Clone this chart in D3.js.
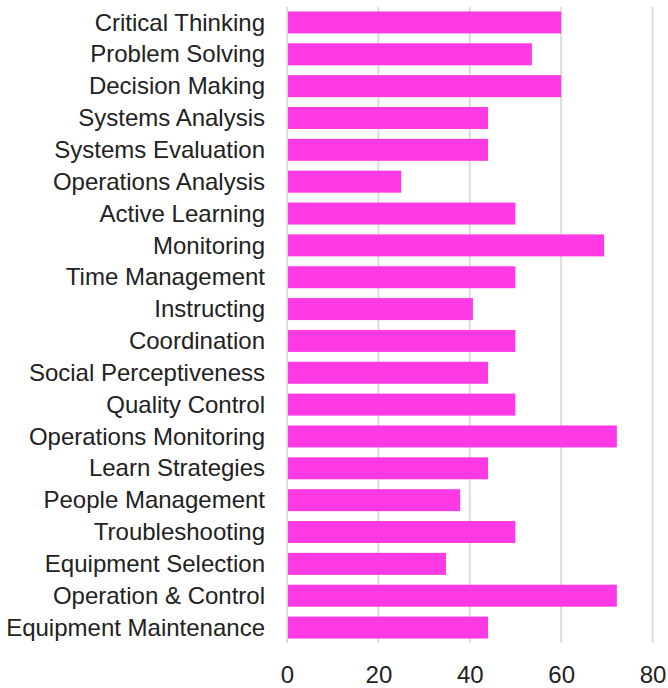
<!DOCTYPE html>
<html>
<head>
<meta charset="utf-8">
<script src="https://cdn.jsdelivr.net/npm/d3@7"></script>
<style>
  body { margin: 0; background: #fff; }
  text { font-family: "Liberation Sans", Arial, Helvetica, sans-serif; fill: #222; }
</style>
</head>
<body>
<div id="target"></div>
<script>
// skills and their scores
var skills = ['Critical Thinking', 'Problem Solving', 'Decision Making', 'Systems Analysis',
  'Systems Evaluation', 'Operations Analysis', 'Active Learning', 'Monitoring',
  'Time Management', 'Instructing', 'Coordination', 'Social Perceptiveness',
  'Quality Control', 'Operations Monitoring', 'Learn Strategies', 'People Management',
  'Troubleshooting', 'Equipment Selection', 'Operation & Control', 'Equipment Maintenance'];
var scores = [60, 53.6, 60, 44, 44, 25, 50, 69.4, 50, 40.7, 50, 44, 50, 72.2, 44, 37.9, 50, 34.8, 72.2, 44];
var xTicks = [0, 20, 40, 60, 80];

var width = 668, height = 688;

var canvas = d3.select('#target')
  .append('svg')
  .attr('width', width)
  .attr('height', height);

var x = d3.scaleLinear()
  .domain([0, 80])
  .range([287, 652.5]);

var y = d3.scaleBand()
  .domain(skills)
  .range([7, 643])
  .paddingInner(0.31)
  .paddingOuter(0.14);

// gridlines
canvas.append('g')
  .selectAll('line')
  .data(xTicks)
  .enter().append('line')
  .attr('x1', function(d) { return x(d); })
  .attr('x2', function(d) { return x(d); })
  .attr('y1', 7)
  .attr('y2', 643)
  .attr('stroke', '#dcdcdc')
  .attr('stroke-width', 2);

// bars
canvas.append('g')
  .selectAll('rect')
  .data(scores)
  .enter().append('rect')
  .attr('x', x(0) + 1)
  .attr('y', function(d, i) { return y(skills[i]); })
  .attr('width', function(d) { return x(d) - x(0) - 1; })
  .attr('height', y.bandwidth())
  .attr('fill', '#ff3ae4');

// category labels
var yAxis = canvas.append('g')
  .attr('transform', 'translate(265,0)')
  .call(d3.axisLeft(y).tickSize(0).tickPadding(0));
yAxis.select('.domain').remove();
yAxis.selectAll('text')
  .style('font-size', '24px')
  .attr('dy', '0.34em')
  .attr('fill', '#222');

// value axis
var xAxis = canvas.append('g')
  .attr('transform', 'translate(0,662)')
  .call(d3.axisBottom(x).tickValues(xTicks).tickSize(0).tickPadding(4));
xAxis.select('.domain').remove();
xAxis.selectAll('text')
  .style('font-size', '24px')
  .attr('fill', '#222');
</script>
</body>
</html>
